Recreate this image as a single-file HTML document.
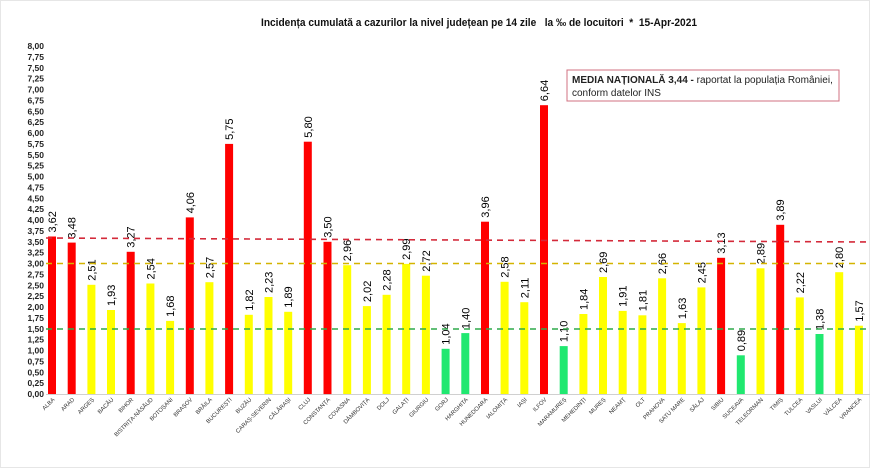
<!DOCTYPE html>
<html><head><meta charset="utf-8"><style>
html,body{margin:0;padding:0;background:#fff;}
svg{display:block;font-family:"Liberation Sans",sans-serif;}
</style></head><body>
<svg width="870" height="469" viewBox="0 0 870 469" xmlns="http://www.w3.org/2000/svg">
<rect x="0" y="0" width="870" height="469" fill="#fff"/>
<rect x="0.5" y="0.5" width="869" height="467" fill="none" stroke="#e6e6e6"/>
<text x="261" y="26" font-size="11" font-weight="bold" textLength="436" lengthAdjust="spacingAndGlyphs" fill="#111">Incidența cumulată a cazurilor la nivel județean pe 14 zile&#160;&#160;&#160;la ‰ de locuitori&#160;&#160;*&#160;&#160;15-Apr-2021</text>
<g id="yl" font-size="8.5" font-weight="bold" fill="#222" text-anchor="end"></g>
<line x1="46" y1="394.5" x2="870" y2="394.5" stroke="#d0d0d0"/>
<g id="bars"></g>
<line x1="46" y1="238" x2="870" y2="242" stroke="#d42a3a" stroke-width="1.6" stroke-dasharray="6,5"/>
<line x1="46" y1="263.5" x2="870" y2="263.5" stroke="#d4b400" stroke-width="1.6" stroke-dasharray="6,5"/>
<line x1="46" y1="329" x2="870" y2="329" stroke="#2eaa4a" stroke-width="1.6" stroke-dasharray="6,5"/>
<rect x="567" y="70" width="272" height="31" fill="#fff" stroke="#d07080" stroke-width="1"/>
<text x="572" y="83" font-size="10" fill="#222"><tspan font-weight="bold">MEDIA NAȚIONALĂ 3,44 -</tspan> raportat la populația României,</text>
<text x="572" y="96" font-size="10" fill="#222">conform datelor INS</text>
</svg>
<script>
const d=[["ALBA",3.62,"R"],["ARAD",3.48,"R"],["ARGEȘ",2.51,"Y"],["BACĂU",1.93,"Y"],["BIHOR",3.27,"R"],["BISTRIȚA-NĂSĂUD",2.54,"Y"],["BOTOȘANI",1.68,"Y"],["BRAȘOV",4.06,"R"],["BRĂILA",2.57,"Y"],["BUCUREȘTI",5.75,"R"],["BUZĂU",1.82,"Y"],["CARAȘ-SEVERIN",2.23,"Y"],["CĂLĂRAȘI",1.89,"Y"],["CLUJ",5.80,"R"],["CONSTANȚA",3.50,"R"],["COVASNA",2.96,"Y"],["DÂMBOVIȚA",2.02,"Y"],["DOLJ",2.28,"Y"],["GALAȚI",2.99,"Y"],["GIURGIU",2.72,"Y"],["GORJ",1.04,"G"],["HARGHITA",1.40,"G"],["HUNEDOARA",3.96,"R"],["IALOMIȚA",2.58,"Y"],["IAȘI",2.11,"Y"],["ILFOV",6.64,"R"],["MARAMUREȘ",1.10,"G"],["MEHEDINȚI",1.84,"Y"],["MUREȘ",2.69,"Y"],["NEAMȚ",1.91,"Y"],["OLT",1.81,"Y"],["PRAHOVA",2.66,"Y"],["SATU MARE",1.63,"Y"],["SĂLAJ",2.45,"Y"],["SIBIU",3.13,"R"],["SUCEAVA",0.89,"G"],["TELEORMAN",2.89,"Y"],["TIMIȘ",3.89,"R"],["TULCEA",2.22,"Y"],["VASLUI",1.38,"G"],["VÂLCEA",2.80,"Y"],["VRANCEA",1.57,"Y"]];
const col={R:"#ff0000",Y:"#ffff00",G:"#20e870"};
const base=394,k=43.5;let s="";
d.forEach((e,i)=>{const cx=52+i*19.68,h=e[1]*k,top=base-h;
s+=`<rect x="${(cx-4).toFixed(1)}" y="${top.toFixed(1)}" width="8" height="${h.toFixed(1)}" fill="${col[e[2]]}"/>`;
s+=`<text transform="translate(${(cx+4).toFixed(1)},${(top-4).toFixed(1)}) rotate(-90)" font-size="11" fill="#000">${e[1].toFixed(2).replace('.',',')}</text>`;
s+=`<text transform="translate(${(cx+3).toFixed(1)},400) rotate(-45)" font-size="5.8" text-anchor="end" fill="#333">${e[0]}</text>`;});
document.getElementById("bars").innerHTML=s;
let y="";for(let v=0;v<=32;v++){const yy=base-v*0.25*k;y+=`<text x="44" y="${(yy+3).toFixed(1)}">${(v*0.25).toFixed(2).replace('.',',')}</text>`;}
document.getElementById("yl").innerHTML=y;
</script>
</body></html>
